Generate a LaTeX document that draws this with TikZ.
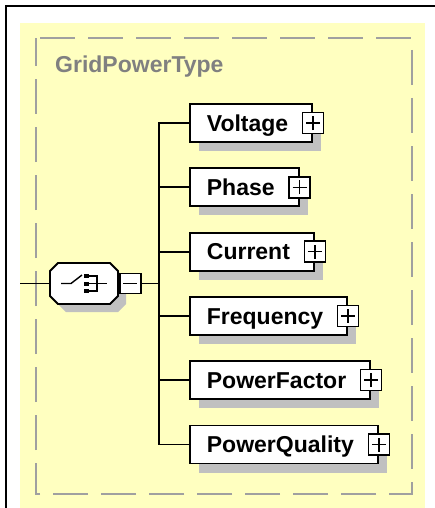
\documentclass[tikz,border=0pt]{standalone}
\usepackage{fontspec}
\setmainfont{Liberation Sans}
\usepackage{tikz}
\usetikzlibrary{positioning,shadows,calc}

\definecolor{xsdyellow}{RGB}{255,255,192}
\definecolor{xsdshadow}{RGB}{192,192,192}
\definecolor{xsdframe}{RGB}{160,160,160}
\definecolor{xsdtitle}{RGB}{128,128,128}

\begin{document}
\begin{tikzpicture}[x=1pt, y=-1pt,
  element/.style={rectangle, draw, fill=white, line width=1.8pt,
                  font=\fontsize{23}{27}\selectfont\bfseries,
                  text height=16.5pt, text depth=0pt,
                  minimum height=38pt, inner sep=0pt,
                  execute at begin node={\hspace{17pt}},
                  execute at end node={\hspace{24pt}},
                  drop shadow={shadow xshift=9pt, shadow yshift=-9pt,
                               fill=xsdshadow, opacity=1}},
  plusbox/.style={rectangle, draw, fill=white, line width=1.5pt,
                  minimum size=21pt, inner sep=0pt,
                  path picture={\draw[line width=1.5pt]
                    ([xshift=-7pt]path picture bounding box.center) --
                    ([xshift=7pt]path picture bounding box.center)
                    ([yshift=-7pt]path picture bounding box.center) --
                    ([yshift=7pt]path picture bounding box.center);}},
  minusbox/.style={rectangle, draw, fill=white, line width=1.5pt,
                   minimum width=21pt, minimum height=20pt, inner sep=0pt,
                   path picture={\draw[line width=1.5pt]
                     ([xshift=-7pt]path picture bounding box.center) --
                     ([xshift=7pt]path picture bounding box.center);}},
  title/.style={font=\fontsize{23}{27}\selectfont\bfseries, text=xsdtitle,
                inner sep=0pt},
  wire/.style={line width=1.8pt},
  group/.style={draw=xsdframe, line width=2.5pt,
                dash pattern=on 35pt off 13pt, dash phase=44pt}
]
  \useasboundingbox (0,0) rectangle (435,508);

  % background and frame
  \fill[xsdyellow] (20,23) rectangle (425,508);
  \draw[line width=2pt] (6,508) -- (6,6) -- (435,6);
  \draw[group] (36,38) -- (412,38) -- (412,494) -- (36,494) -- cycle;
  \node[title, anchor=base west] (name) at (55,73) {GridPowerType};

  % choice compositor
  \node[rectangle, minimum width=68pt, minimum height=41pt, inner sep=0pt] (choice) at (84,283.5) {};
  \begin{scope}[shift={($(choice.center)+(8,8)$)}]
    \fill[xsdshadow] (-26,-20.5) -- (26,-20.5) -- (34,-12.5) -- (34,12.5)
      -- (26,20.5) -- (-26,20.5) -- (-34,12.5) -- (-34,-12.5) -- cycle;
  \end{scope}
  \begin{scope}[shift={(choice.center)}]
    \draw[line width=1.8pt, fill=white] (-26,-20.5) -- (26,-20.5) -- (34,-12.5) -- (34,12.5)
      -- (26,20.5) -- (-26,20.5) -- (-34,12.5) -- (-34,-12.5) -- cycle;
    \draw[line width=1.4pt] (-23,0) -- (-13,0) -- (-2,-8.5);
    \fill (-0.5,-9.5) rectangle (4.5,-5.5);
    \fill (-0.5,-2) rectangle (4.5,2);
    \fill (-0.5,5.5) rectangle (4.5,9.5);
    \draw[line width=1.4pt] (4.5,-7.5) -- (13,-7.5) -- (13,7.5) -- (4.5,7.5);
    \draw[line width=1.4pt] (4.5,0) -- (23,0);
  \end{scope}
  \node[minusbox, right=1pt of choice] (fold) {};

  % elements
  \node[element, anchor=west] (voltage) at (189,123) {Voltage};
  \node[element, below right=24.5pt and 0pt of voltage.south west] (phase) {Phase};
  \node[element, below right=24.5pt and 0pt of phase.south west] (current) {Current};
  \node[element, below right=24.5pt and 0pt of current.south west] (frequency) {Frequency};
  \node[element, below right=24.5pt and 0pt of frequency.south west] (factor) {PowerFactor};
  \node[element, below right=24.5pt and 0pt of factor.south west] (quality) {PowerQuality};
  \foreach \e in {voltage,phase,current,frequency,factor,quality}
    \node[plusbox] (\e-more) at (\e.east) {};

  % connectors
  \coordinate (entry) at (20,283.5);
  \coordinate (bus) at (159,283.5);
  \draw[wire] (entry) -- (choice.west);
  \draw[wire] (fold.east) -- (bus);
  \foreach \e in {voltage,phase,current,frequency,factor,quality}
    \draw[wire] (bus) |- (\e.west);
\end{tikzpicture}
\end{document}
